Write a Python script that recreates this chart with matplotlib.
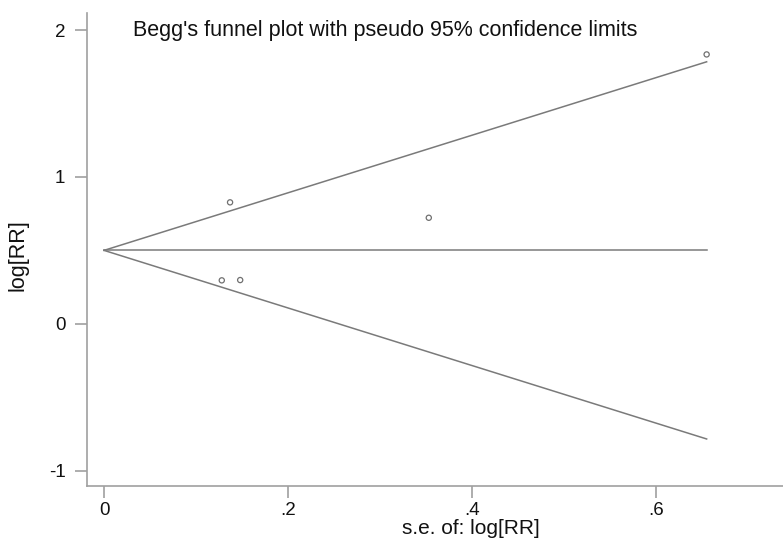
import numpy as np
import matplotlib
matplotlib.use("Agg")
import matplotlib.pyplot as plt

# Data
se = [0.128, 0.137, 0.148, 0.353, 0.655]
logrr = [0.296, 0.827, 0.298, 0.722, 1.834]
pooled = 0.50
xticks = [0, 0.2, 0.4, 0.6]
xticklabels = ["0", ".2", ".4", ".6"]
yticks = [-1, 0, 1, 2]
yticklabels = ["-1", "0", "1", "2"]

plt.rcParams['font.family'] = ['Liberation Sans', 'DejaVu Sans']

fig = plt.figure(figsize=(7.83, 5.38), dpi=100)
ax = fig.add_axes([87/783, 1-486/538, 1-87/783, (486-13)/538])

smax = max(se)
s = np.array([0, smax])
lc = '#7a7a7a'
ax.plot(s, pooled + 1.96*s, color=lc, lw=1.1)
ax.plot(s, pooled - 1.96*s, color=lc, lw=1.1)
ax.plot(s, [pooled, pooled], color=lc, lw=1.1)
ax.scatter(se, logrr, s=14, facecolors='none', edgecolors='#707070', linewidths=0.9, zorder=3)

ax.set_xlim(-0.0185, 0.738)
ax.set_ylim(-1.104, 2.116)
ax.set_xticks(xticks)
ax.set_xticklabels(xticklabels)
ax.set_yticks(yticks)
ax.set_yticklabels(yticklabels)

for side in ['top', 'right']:
    ax.spines[side].set_visible(False)
for side in ['left', 'bottom']:
    ax.spines[side].set_color('#a0a0a0')
    ax.spines[side].set_linewidth(1.2)
ax.tick_params(axis='both', colors='#a0a0a0', labelcolor='#111111', length=8.5, width=1.2, labelsize=13.5)
ax.tick_params(axis='y', pad=7)
ax.tick_params(axis='x', pad=3)

ax.text(0.0315, 2.0, "Begg's funnel plot with pseudo 95% confidence limits",
        fontsize=15.5, color='#111111', ha='left', va='center')

fig.text(18/783, 1-255/538, "log[RR]", rotation=90, fontsize=15.5, ha='center', va='center', color='#111111')
fig.text(471/783, 1-529/538, "s.e. of: log[RR]", fontsize=15, ha='center', va='center', color='#111111')

fig.savefig("out.png", dpi=100)
